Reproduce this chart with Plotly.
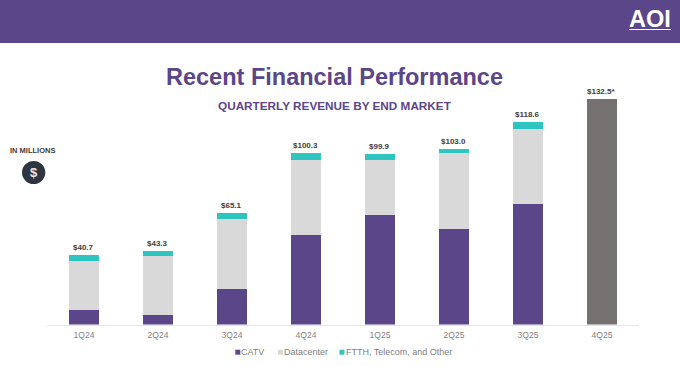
import plotly.graph_objects as go

quarters = ["1Q24", "2Q24", "3Q24", "4Q24", "1Q25", "2Q25", "3Q25", "4Q25"]
catv = [8.7, 5.8, 20.8, 52.5, 64.4, 56.0, 70.7, None]
datacenter = [28.7, 34.4, 41.1, 44.0, 32.1, 44.8, 44.0, None]
ftth = [3.3, 3.1, 3.2, 3.8, 3.4, 2.2, 3.9, None]
guidance = [None, None, None, None, None, None, None, 132.5]
totals = [40.7, 43.3, 65.1, 100.3, 99.9, 103.0, 118.6, 132.5]
total_labels = ["$40.7", "$43.3", "$65.1", "$100.3", "$99.9", "$103.0", "$118.6", "$132.5*"]

W, H = 680, 366
PURPLE = "#5B4689"
TEAL = "#2EC4C0"
LIGHT = "#D9D9D9"
DARK = "#767171"
FONT = "Liberation Sans"


def px(x):
    return x / W


def py(y):
    return 1 - y / H


fig = go.Figure()
for name, vals, col in [("CATV", catv, PURPLE), ("Datacenter", datacenter, LIGHT),
                        ("FTTH, Telecom, and Other", ftth, TEAL), ("Guidance", guidance, DARK)]:
    fig.add_bar(x=quarters, y=vals, name=name, marker=dict(color=col, line_width=0), showlegend=False)

annotations = []
for q, t, lab in zip(quarters, totals, total_labels):
    annotations.append(dict(x=q, y=t, text=f"<b>{lab}</b>", showarrow=False, yanchor="bottom", yshift=1, xshift=-1,
                            font=dict(family=FONT, size=8, color="#404040")))


def note(x, y, text, size, color, anchor="center"):
    annotations.append(dict(xref="paper", yref="paper", x=px(x), y=py(y), text=text, showarrow=False,
                            xanchor=anchor, yanchor="middle", font=dict(family=FONT, size=size, color=color)))


note(334.5, 77, "<b>Recent Financial Performance</b>", 23.5, PURPLE)
note(334.5, 105.5, "<b>QUARTERLY REVENUE BY END MARKET</b>", 11.75, PURPLE)
note(32.5, 150.5, "<b>IN MILLIONS</b>", 7.5, "#404040")
note(33.5, 172.5, "<b>$</b>", 13, "#E8E8E8")
note(650, 19, "<b>AOI</b>", 23.5, "white")
note(239, 352, "CATV", 9, "#7F7F7F", "left")
note(281.5, 352, "Datacenter", 9, "#7F7F7F", "left")
note(344, 352, "FTTH, Telecom, and Other", 9, "#7F7F7F", "left")


def rect(x0, y0, x1, y1, col):
    return dict(type="rect", xref="paper", yref="paper", x0=px(x0), x1=px(x1), y0=py(y0), y1=py(y1),
                fillcolor=col, line_width=0, layer="below")


shapes = [
    rect(0, 0, W, 43, PURPLE),
    rect(629, 29, 671, 30, "white"),
    rect(235.3, 349.7, 240.3, 354.7, PURPLE),
    rect(278, 349.7, 283, 354.7, LIGHT),
    rect(339.5, 349.7, 344.5, 354.7, TEAL),
    dict(type="circle", xref="paper", yref="paper", x0=px(22), x1=px(45.3), y0=py(161), y1=py(184),
         fillcolor="#2F3540", line_width=0, layer="below"),
]

fig.update_layout(
    width=W, height=H, margin=dict(l=0, r=0, t=0, b=0), barmode="stack", bargap=0.595,
    paper_bgcolor="white", plot_bgcolor="rgba(0,0,0,0)", showlegend=False,
    annotations=annotations, shapes=shapes,
    xaxis=dict(domain=[px(47), px(639)], showline=True, linecolor="#E4E4E4", linewidth=1, ticks="",
               ticklabelstandoff=2,
               tickfont=dict(family=FONT, size=8.5, color="#7F7F7F"), fixedrange=True),
    yaxis=dict(domain=[py(324.5), 1], range=[0, 190.3], visible=False, fixedrange=True),
)
fig.write_html("out.html", config=dict(displayModeBar=False),
               post_script="document.body.style.margin='0';document.documentElement.style.overflow='hidden';")
